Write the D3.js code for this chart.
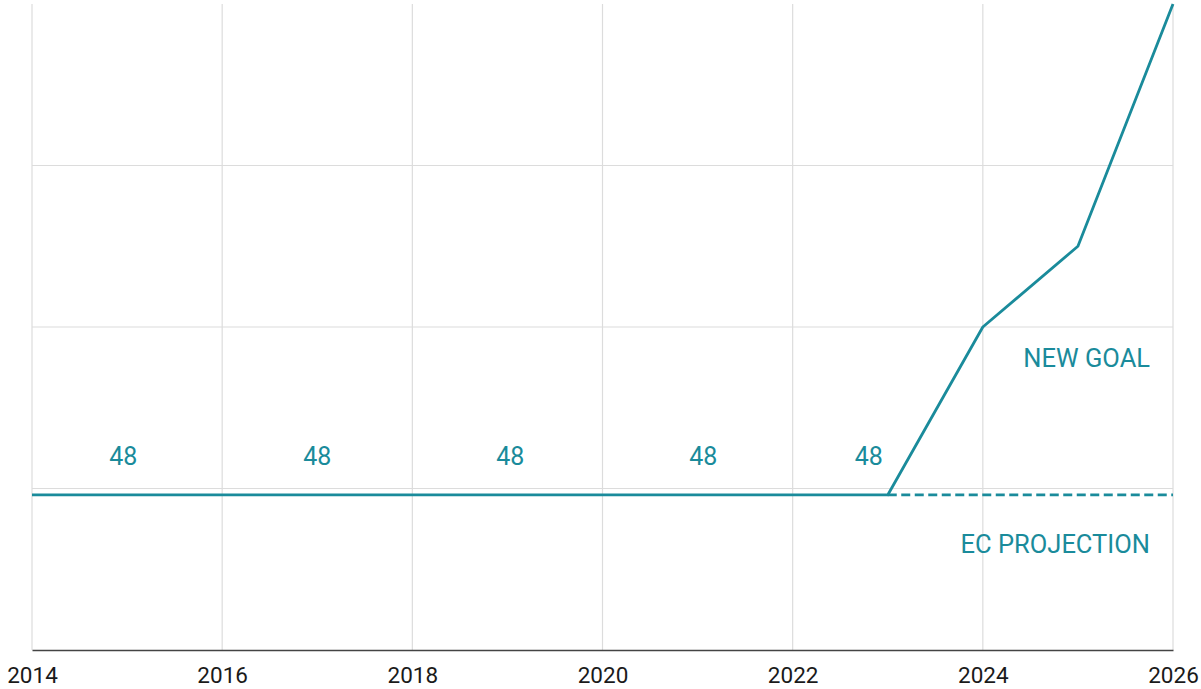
<!DOCTYPE html>
<html>
<head>
<meta charset="utf-8">
<script src="https://cdn.jsdelivr.net/npm/d3@7"></script>
<style>
  body { margin: 0; background: #fff; }
  text { font-family: Roboto, "Noto Sans", sans-serif; }
</style>
</head>
<body>
<div id="chart"></div>
<script>
// Data
const goalYears = [2014, 2015, 2016, 2017, 2018, 2019, 2020, 2021, 2022, 2023, 2024, 2025, 2026];
const goalValues = [48, 48, 48, 48, 48, 48, 48, 48, 48, 48, 100, 125, 200];
const projectionYears = [2023, 2024, 2025, 2026];
const projectionValues = [48, 48, 48, 48];
const labelYears = [2014.96, 2017, 2019.03, 2021.06, 2022.8];
const labelValues = [48, 48, 48, 48, 48];
const xTicks = [2014, 2016, 2018, 2020, 2022, 2024, 2026];
const yGrid = [50, 100, 150];

const width = 1201;
const height = 689;
const margin = {top: 4, right: 28, bottom: 39, left: 32};
const teal = "#1a8b9b";

const svg = d3.select("#chart")
  .append("svg")
  .attr("width", width)
  .attr("height", height);

const x = d3.scaleLinear()
  .domain([2014, 2026])
  .range([margin.left, width - margin.right]);

const y = d3.scaleLinear()
  .domain([0, 200])
  .range([height - margin.bottom, margin.top]);

// gridlines
svg.append("g")
  .selectAll("line")
  .data(xTicks)
  .join("line")
  .attr("x1", d => x(d)).attr("x2", d => x(d))
  .attr("y1", y(200)).attr("y2", y(0))
  .attr("stroke", "#dcdcdc")
  .attr("stroke-width", 1.2);

svg.append("g")
  .selectAll("line")
  .data(yGrid)
  .join("line")
  .attr("x1", x(2014)).attr("x2", x(2026))
  .attr("y1", d => y(d)).attr("y2", d => y(d))
  .attr("stroke", "#dcdcdc")
  .attr("stroke-width", 1.2);

// bottom axis
const xAxis = svg.append("g")
  .attr("transform", "translate(0," + y(0) + ")")
  .call(d3.axisBottom(x).tickValues(xTicks).tickFormat(d3.format("d")).tickSize(0).tickPadding(17));
xAxis.select(".domain").attr("stroke", "#444").attr("stroke-width", 1.5);
xAxis.selectAll("text")
  .attr("fill", "#1a1a1a")
  .style("font-size", "22.5px");

// lines
const line = d3.line()
  .x(d => x(d[0]))
  .y(d => y(d[1]));

svg.append("path")
  .datum(d3.zip(projectionYears, projectionValues))
  .attr("fill", "none")
  .attr("stroke", teal)
  .attr("stroke-width", 2.8)
  .attr("stroke-dasharray", "9,4.5")
  .attr("d", line);

svg.append("path")
  .datum(d3.zip(goalYears, goalValues))
  .attr("fill", "none")
  .attr("stroke", teal)
  .attr("stroke-width", 2.8)
  .attr("stroke-linejoin", "round")
  .attr("d", line);

// value labels
svg.append("g")
  .selectAll("text")
  .data(d3.zip(labelYears, labelValues))
  .join("text")
  .attr("x", d => x(d[0]))
  .attr("y", 465)
  .attr("text-anchor", "middle")
  .attr("fill", teal)
  .style("font-size", "25px")
  .text(d => d[1]);

// series annotations
svg.append("text")
  .attr("x", 1150).attr("y", 367)
  .attr("text-anchor", "end")
  .attr("fill", teal)
  .style("font-size", "25.5px")
  .text("NEW GOAL");

svg.append("text")
  .attr("x", 1150).attr("y", 553)
  .attr("text-anchor", "end")
  .attr("fill", teal)
  .style("font-size", "25.5px")
  .text("EC PROJECTION");
</script>
</body>
</html>
